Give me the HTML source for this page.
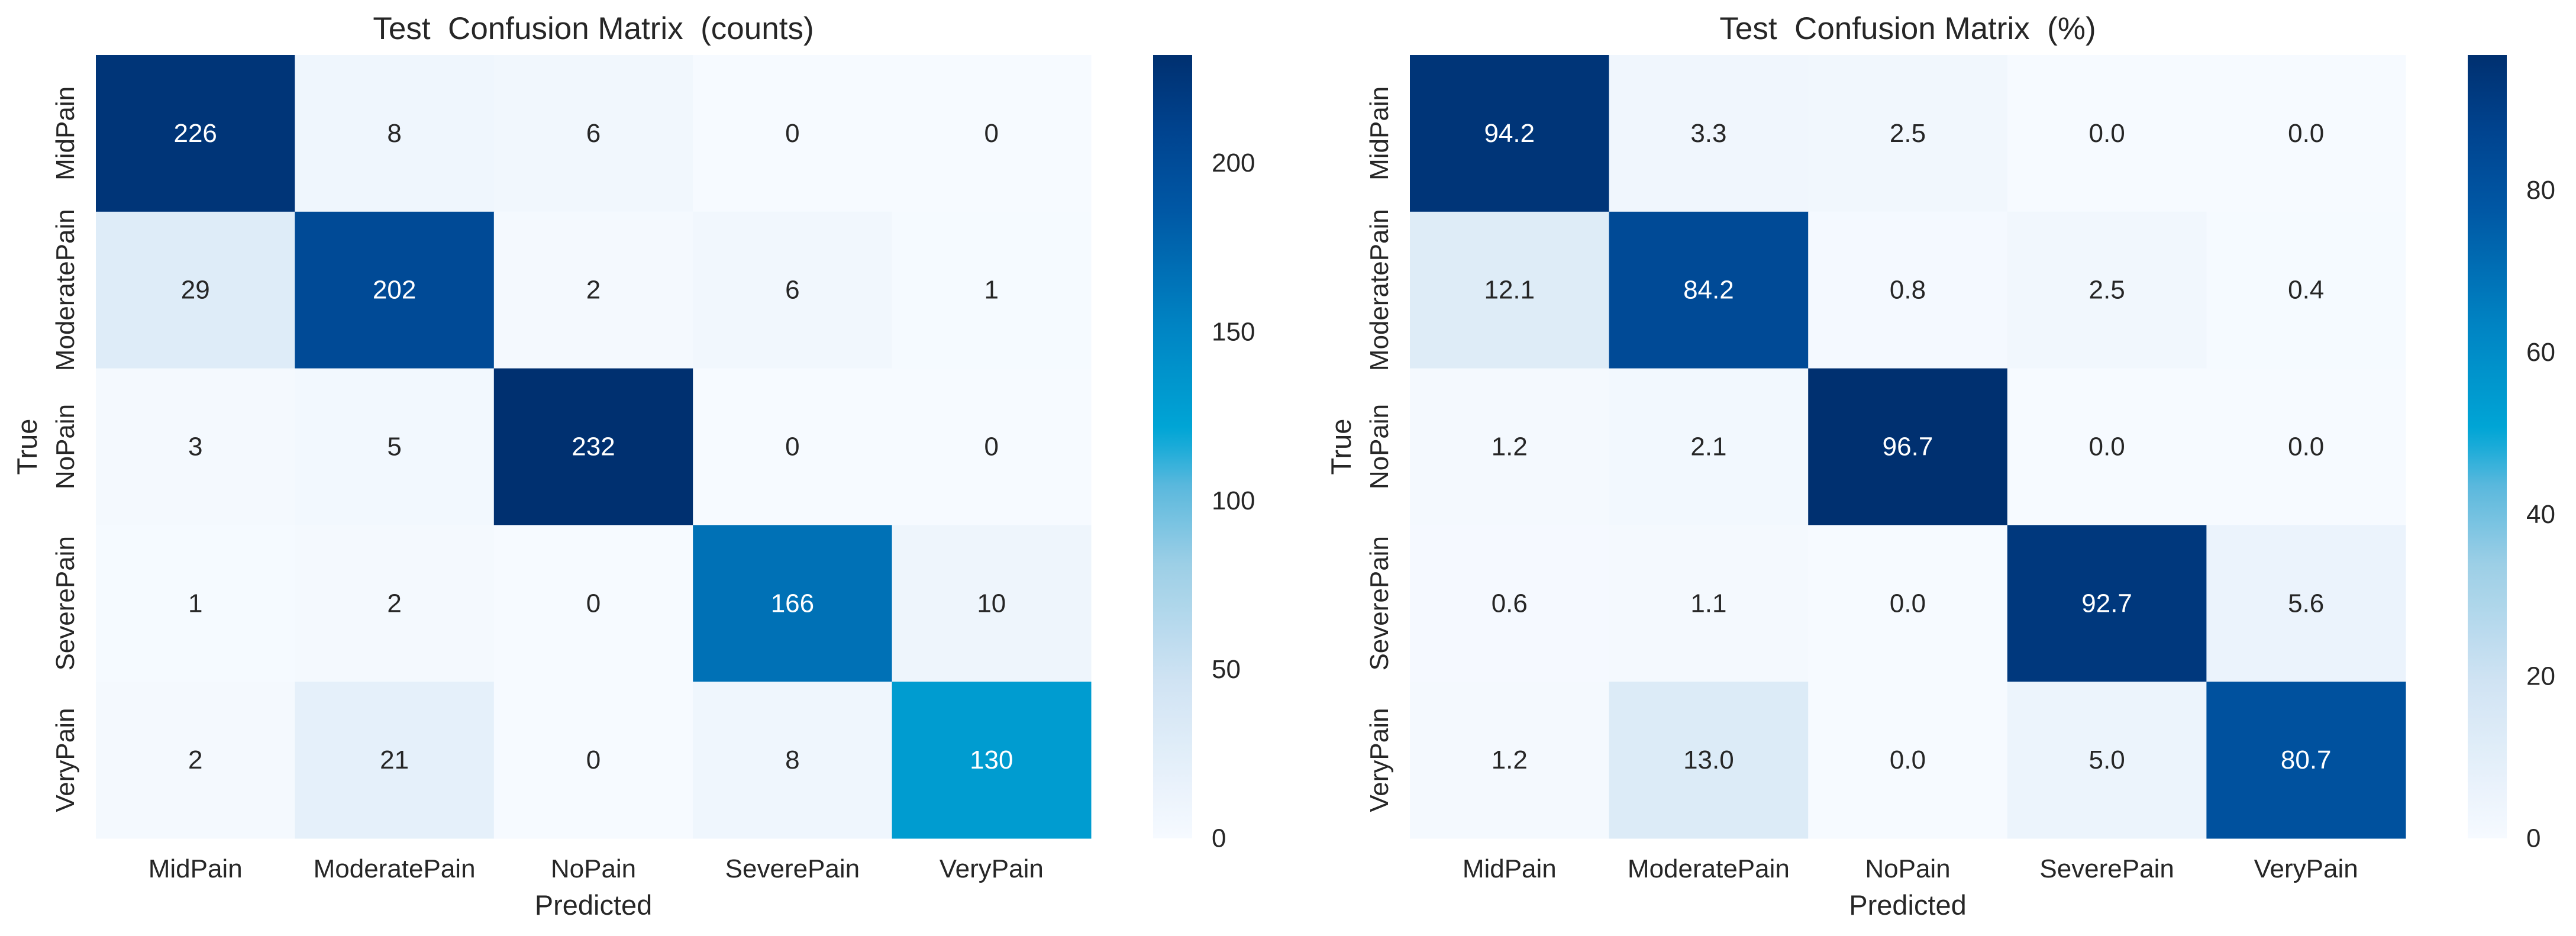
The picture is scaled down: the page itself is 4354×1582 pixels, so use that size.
<!DOCTYPE html>
<html><head><meta charset="utf-8">
<style>
html,body{margin:0;padding:0;background:#fff;}
svg{display:block;font-family:"Liberation Sans",Arial,sans-serif;}
text{white-space:pre;}
</style></head>
<body>
<svg id="fig" width="4354" height="1582" viewBox="0 0 4354 1582" xmlns="http://www.w3.org/2000/svg"></svg>
<script>
const classes = ["MidPain","ModeratePain","NoPain","SeverePain","VeryPain"];
const countValues = [
  [226, 8, 6, 0, 0],
  [29, 202, 2, 6, 1],
  [3, 5, 232, 0, 0],
  [1, 2, 0, 166, 10],
  [2, 21, 0, 8, 130]
];
const pctValues = [
  [94.2, 3.3, 2.5, 0.0, 0.0],
  [12.1, 84.2, 0.8, 2.5, 0.4],
  [1.2, 2.1, 96.7, 0.0, 0.0],
  [0.6, 1.1, 0.0, 92.7, 5.6],
  [1.2, 13.0, 0.0, 5.0, 80.7]
];
const countTicks = [0, 50, 100, 150, 200];
const pctTicks = [0, 20, 40, 60, 80];

const NS = "http://www.w3.org/2000/svg";
const svg = document.getElementById("fig");
const stops = [
  [0.00, [246,250,255]],
  [0.20, [208,227,243]],
  [0.35, [156,207,230]],
  [0.45, [90,184,221]],
  [0.52, [0,166,214]],
  [0.65, [0,133,196]],
  [0.80, [0,88,165]],
  [0.90, [0,68,144]],
  [1.00, [0,48,112]]
];
function cmap(t){
  t = Math.max(0, Math.min(1, t));
  for (let i = 1; i < stops.length; i++) {
    if (t <= stops[i][0]) {
      const a = stops[i-1], b = stops[i];
      const f = (t - a[0]) / (b[0] - a[0]);
      const c = a[1].map((v, k) => Math.round(v + (b[1][k] - v) * f));
      return "rgb(" + c.join(",") + ")";
    }
  }
  return "rgb(0,48,112)";
}
function mk(tag, attrs, parent){
  const e = document.createElementNS(NS, tag);
  for (const k in attrs) e.setAttribute(k, attrs[k]);
  (parent || svg).appendChild(e);
  return e;
}
function drawPanel(cfg){
  const g = mk("g", {});
  
  
  const x0 = cfg.x0, y0 = 93, W = cfg.w, H = 1324;
  const n = classes.length, cw = W / n, ch = H / n;
  const vmax = Math.max(...cfg.values.flat());
  const xScale = j => x0 + j * cw;
  const yScale = i => y0 + i * ch;
  cfg.values.forEach((row, i) => {
    row.forEach((v, j) => {
      const t = v / vmax;
      const r = mk("rect", {x: xScale(j), y: yScale(i), width: cw + 0.5, height: ch + 0.5, fill: cmap(t)}, g);
      
      
      const tx = mk("text", {x: xScale(j) + cw/2, y: yScale(i) + ch/2, "text-anchor": "middle", "dominant-baseline": "central", "font-size": 44, fill: t > 0.45 ? "#ffffff" : "#262626"}, g);
      tx.textContent = cfg.fmt(v);
      
      
    });
  });
  classes.forEach((c, j) => {
    const t = mk("text", {x: xScale(j) + cw/2, y: 1483, "text-anchor": "middle", "font-size": 44, fill: "#262626"}, g);
    t.textContent = c;
    
    
  });
  classes.forEach((c, i) => {
    const cy = yScale(i) + ch/2, cx = x0 - 37;
    const t = mk("text", {x: cx, y: cy, "text-anchor": "middle", "font-size": 44, fill: "#262626", transform: "rotate(-90 " + cx + " " + cy + ")"}, g);
    t.textContent = c;
    
    
  });
  const xl = mk("text", {x: x0 + W/2, y: 1546, "text-anchor": "middle", "font-size": 47, fill: "#262626"}, g);
  xl.textContent = "Predicted";
  
  
  const ly = y0 + H/2, lx = x0 - 100;
  const yl = mk("text", {x: lx, y: ly, "text-anchor": "middle", "font-size": 47, fill: "#262626", transform: "rotate(-90 " + lx + " " + ly + ")"}, g);
  yl.textContent = "True";
  
  
  const ti = mk("text", {x: x0 + W/2, y: 66, "text-anchor": "middle", "font-size": 53, fill: "#262626"}, g);
  ti.textContent = cfg.title;
  
  
  const cbx = cfg.cbx, cbw = 66;
  const gid = "grad-" + cfg.name;
  const defs = mk("defs", {}, g);
  const lg = mk("linearGradient", {id: gid, x1: 0, y1: 1, x2: 0, y2: 0}, defs);
  for (let k = 0; k <= 40; k++) mk("stop", {offset: k/40, "stop-color": cmap(k/40)}, lg);
  const cb = mk("rect", {x: cbx, y: y0, width: cbw, height: H, fill: "url(#" + gid + ")"}, g);
  
  
  const cbScale = v => y0 + H - v / vmax * H;
  cfg.ticks.forEach(v => {
    const t = mk("text", {x: cbx + cbw + 33, y: cbScale(v), "dominant-baseline": "central", "font-size": 44, fill: "#262626"}, g);
    t.textContent = String(v);
    
    
  });
}
drawPanel({name: "counts-panel", x0: 162, w: 1682, cbx: 1949, values: countValues, ticks: countTicks, title: "Test  Confusion Matrix  (counts)", fmt: v => String(v)});
drawPanel({name: "percent-panel", x0: 2383, w: 1683, cbx: 4171, values: pctValues, ticks: pctTicks, title: "Test  Confusion Matrix  (%)", fmt: v => v.toFixed(1)});
</script>
</body></html>
